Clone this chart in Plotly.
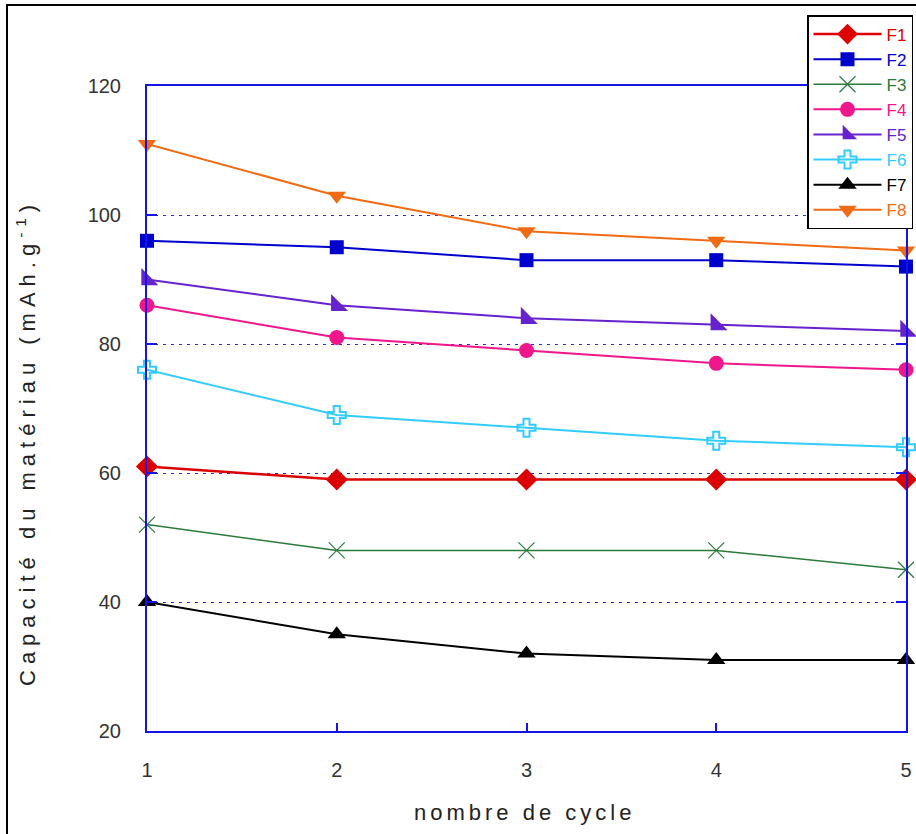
import plotly.graph_objects as go

cycles = [1, 2, 3, 4, 5]
names = ["F1", "F2", "F3", "F4", "F5", "F6", "F7", "F8"]
F1 = [61, 59, 59, 59, 59]
F2 = [96, 95, 93, 93, 92]
F3 = [52, 48, 48, 48, 45]
F4 = [86, 81, 79, 77, 76]
F5 = [90, 86, 84, 83, 82]
F6 = [76, 69, 67, 65, 64]
F7 = [40, 35, 32, 31, 31]
F8 = [111, 103, 97.5, 96, 94.5]
series = [F1, F2, F3, F4, F5, F6, F7, F8]
y_ticks = [20, 40, 60, 80, 100, 120]
x_ticks = [1, 2, 3, 4, 5]

colors = ["#dd0000", "#0000cc", "#2a7a3a", "#f0168c", "#6622cc", "#33ccff", "#000000", "#f06b14"]
symbols = ["diamond", "square", "x-thin", "circle", "triangle-sw", "cross-open", "triangle-up", "triangle-down"]
msizes = [17, 14, 16, 15, 19, 15, 16, 16]
lwidths = [2.5, 2, 1.5, 2, 2, 2, 2, 2]

FONT = "Liberation Sans, Arial, sans-serif"
AX = "#1414e6"

fig = go.Figure()
for n, ys, c, s, ms, lw in zip(names, series, colors, symbols, msizes, lwidths):
    marker = dict(symbol=s, size=ms, color=c)
    if s == "x-thin":
        marker["line"] = dict(color=c, width=1.2)
    elif s == "cross-open":
        marker["line"] = dict(color=c, width=2)
    fig.add_trace(go.Scatter(
        x=cycles, y=ys, mode="lines+markers",
        name=f"<span style='color:{c}'>{n}</span>",
        line=dict(color=c, width=lw),
        marker=marker, cliponaxis=False,
    ))

fig.update_layout(
    width=916, height=834,
    margin=dict(l=147, r=10, t=86, b=103, autoexpand=False),
    paper_bgcolor="white", plot_bgcolor="white",
    font=dict(family=FONT, size=20, color="#333333"),
    showlegend=True,
    legend=dict(
        x=(807 - 147) / 759, xanchor="left",
        y=(731 - 15) / 645, yanchor="top",
        bgcolor="white", bordercolor="black", borderwidth=1.5,
        font=dict(family=FONT, size=17), itemwidth=68,
        tracegroupgap=0,
    ),
    xaxis=dict(
        range=[1, 5], tickvals=x_ticks, ticktext=[str(v) for v in x_ticks],
        showgrid=False, zeroline=False,
        showline=True, linecolor=AX, linewidth=2, mirror=True,
        ticks="inside", ticklen=8, tickcolor=AX, tickwidth=1.5,
        ticklabelstandoff=20,
        tickfont=dict(family=FONT, size=20, color="#333333"),
    ),
    yaxis=dict(
        range=[20, 120], tickvals=y_ticks, ticktext=[str(v) for v in y_ticks],
        showgrid=True, gridcolor="#2828e0", gridwidth=1, griddash="3px,5px",
        zeroline=False,
        showline=True, linecolor=AX, linewidth=2, mirror="ticks",
        ticks="inside", ticklen=10, tickcolor=AX, tickwidth=1.5,
        ticklabelstandoff=20,
        tickfont=dict(family=FONT, size=20, color="#333333"),
    ),
    annotations=[
        dict(text="nombre de cycle", xref="paper", yref="paper",
             x=(524 - 147) / 759, y=(731 - 812) / 645, xanchor="center", yanchor="middle",
             showarrow=False, font=dict(family=FONT, size=22, color="#222222")),
        dict(text="Capacité du matériau (mAh.g<sup>-1</sup>)", xref="paper", yref="paper",
             x=(26 - 147) / 759, y=(731 - 443) / 645, xanchor="center", yanchor="middle",
             textangle=-90, showarrow=False, font=dict(family=FONT, size=22, color="#222222")),
    ],
    shapes=[
        dict(type="rect", xref="paper", yref="paper",
             x0=(7 - 147) / 759, x1=1.2, y0=-0.4, y1=(731 - 5) / 645,
             line=dict(color="black", width=2), layer="below"),
    ],
)

post = """
document.body.style.margin = '0';
document.body.style.padding = '0';
document.documentElement.style.overflow = 'hidden';
var a = document.querySelectorAll('.annotation-text');
if (a.length > 0) a[0].style.letterSpacing = '4px';
if (a.length > 1) a[1].style.letterSpacing = '6px';
"""
fig.write_html("out.html", post_script=post, config={"displayModeBar": False})
